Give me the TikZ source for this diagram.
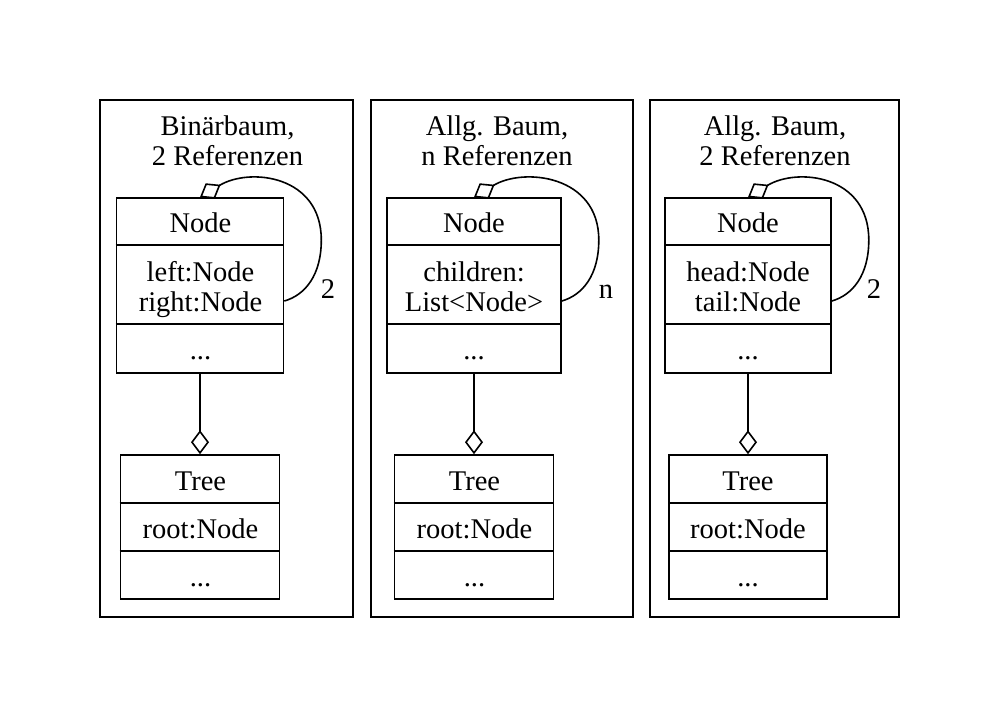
\documentclass[tikz,border=0pt]{standalone}
\usepackage{fontspec}
\setmainfont{Liberation Serif}
\usetikzlibrary{arrows.meta,calc}
\begin{document}
\begin{tikzpicture}[x=1pt,y=-1pt,line width=1.6pt,
  txt/.style={font=\fontsize{28.5}{30}\selectfont,inner sep=0pt,anchor=base},
  frame/.style={draw,rectangle,inner sep=0pt},
  agg/.style={{Diamond[open,length=24pt,width=18pt]}-},
]
\useasboundingbox (0,0) rectangle (1001,717);
% clusters
\node[frame,minimum width=253pt,minimum height=517pt] (c1) at (226.5,358.5) {};
\node[frame,minimum width=262pt,minimum height=517pt] (c2) at (502,358.5) {};
\node[frame,minimum width=249pt,minimum height=517pt] (c3) at (774.5,358.5) {};
% titles
\node[txt] (c1t1) at (227.5,135) {Binärbaum,};
\node[txt] (c1t2) at (227.5,165) {2 Referenzen};
\node[txt] (c2t1) at (497,135) {Allg. Baum,};
\node[txt] (c2t2) at (497,165) {n Referenzen};
\node[txt] (c3t1) at (775,135) {Allg. Baum,};
\node[txt] (c3t2) at (775,165) {2 Referenzen};
% class boxes
\node[frame,minimum width=167pt,minimum height=175pt] (n1) at (200,285.5) {};
\node[frame,minimum width=174pt,minimum height=175pt] (n2) at (474,285.5) {};
\node[frame,minimum width=166pt,minimum height=175pt] (n3) at (748,285.5) {};
\node[frame,minimum width=159pt,minimum height=144pt] (t1) at (200,527) {};
\node[frame,minimum width=159pt,minimum height=144pt] (t2) at (474,527) {};
\node[frame,minimum width=158pt,minimum height=144pt] (t3) at (748,527) {};
% dividers
\foreach \n in {n1,n2,n3}{
  \draw ($(\n.north west)+(0,48)$) -- ($(\n.north east)+(0,48)$);
  \draw ($(\n.north west)+(0,127)$) -- ($(\n.north east)+(0,127)$);
}
\foreach \n in {t1,t2,t3}{
  \draw ($(\n.north west)+(0,49)$) -- ($(\n.north east)+(0,49)$);
  \draw ($(\n.north west)+(0,97)$) -- ($(\n.north east)+(0,97)$);
}
% texts in Node boxes
\node[txt] (n1a) at (200.5,232) {Node};
\node[txt] (n1b) at (200.5,281) {left:Node};
\node[txt] (n1c) at (200.5,311) {right:Node};
\node[txt] (n1d) at (200.5,359) {...};
\node[txt] (n2a) at (474,232) {Node};
\node[txt] (n2b) at (474,281) {children:};
\node[txt] (n2c) at (474,311) {List<Node>};
\node[txt] (n2d) at (474,359) {...};
\node[txt] (n3a) at (748,232) {Node};
\node[txt] (n3b) at (748,281) {head:Node};
\node[txt] (n3c) at (748,311) {tail:Node};
\node[txt] (n3d) at (748,359) {...};
% texts in Tree boxes
\node[txt] (t1a) at (200.5,490) {Tree};
\node[txt] (t1b) at (200.5,538) {root:Node};
\node[txt] (t1c) at (200.5,586) {...};
\node[txt] (t2a) at (474.5,490) {Tree};
\node[txt] (t2b) at (474.5,538) {root:Node};
\node[txt] (t2c) at (474.5,586) {...};
\node[txt] (t3a) at (748,490) {Tree};
\node[txt] (t3b) at (748,538) {root:Node};
\node[txt] (t3c) at (748,586) {...};
% aggregation Tree -> Node
\foreach \i in {1,2,3}{
  \draw[agg] (t\i.north) -- (n\i.south);
}
% self loops
\foreach \i in {1,2,3}{
  \draw[agg] (n\i.north) .. controls ($(n\i.north)+(49.5,-30)$) and ($(n\i.east)+(37,-110.5)$)
    .. ($(n\i.east)+(37,-45.5)$) .. controls ($(n\i.east)+(37,-10.5)$) and ($(n\i.east)+(21,9.5)$)
    .. ($(n\i.east)+(0,15.5)$);
}
% multiplicities
\node[txt] (m1) at (328,298) {2};
\node[txt] (m2) at (606,298) {n};
\node[txt] (m3) at (874,298) {2};
\end{tikzpicture}
\end{document}
